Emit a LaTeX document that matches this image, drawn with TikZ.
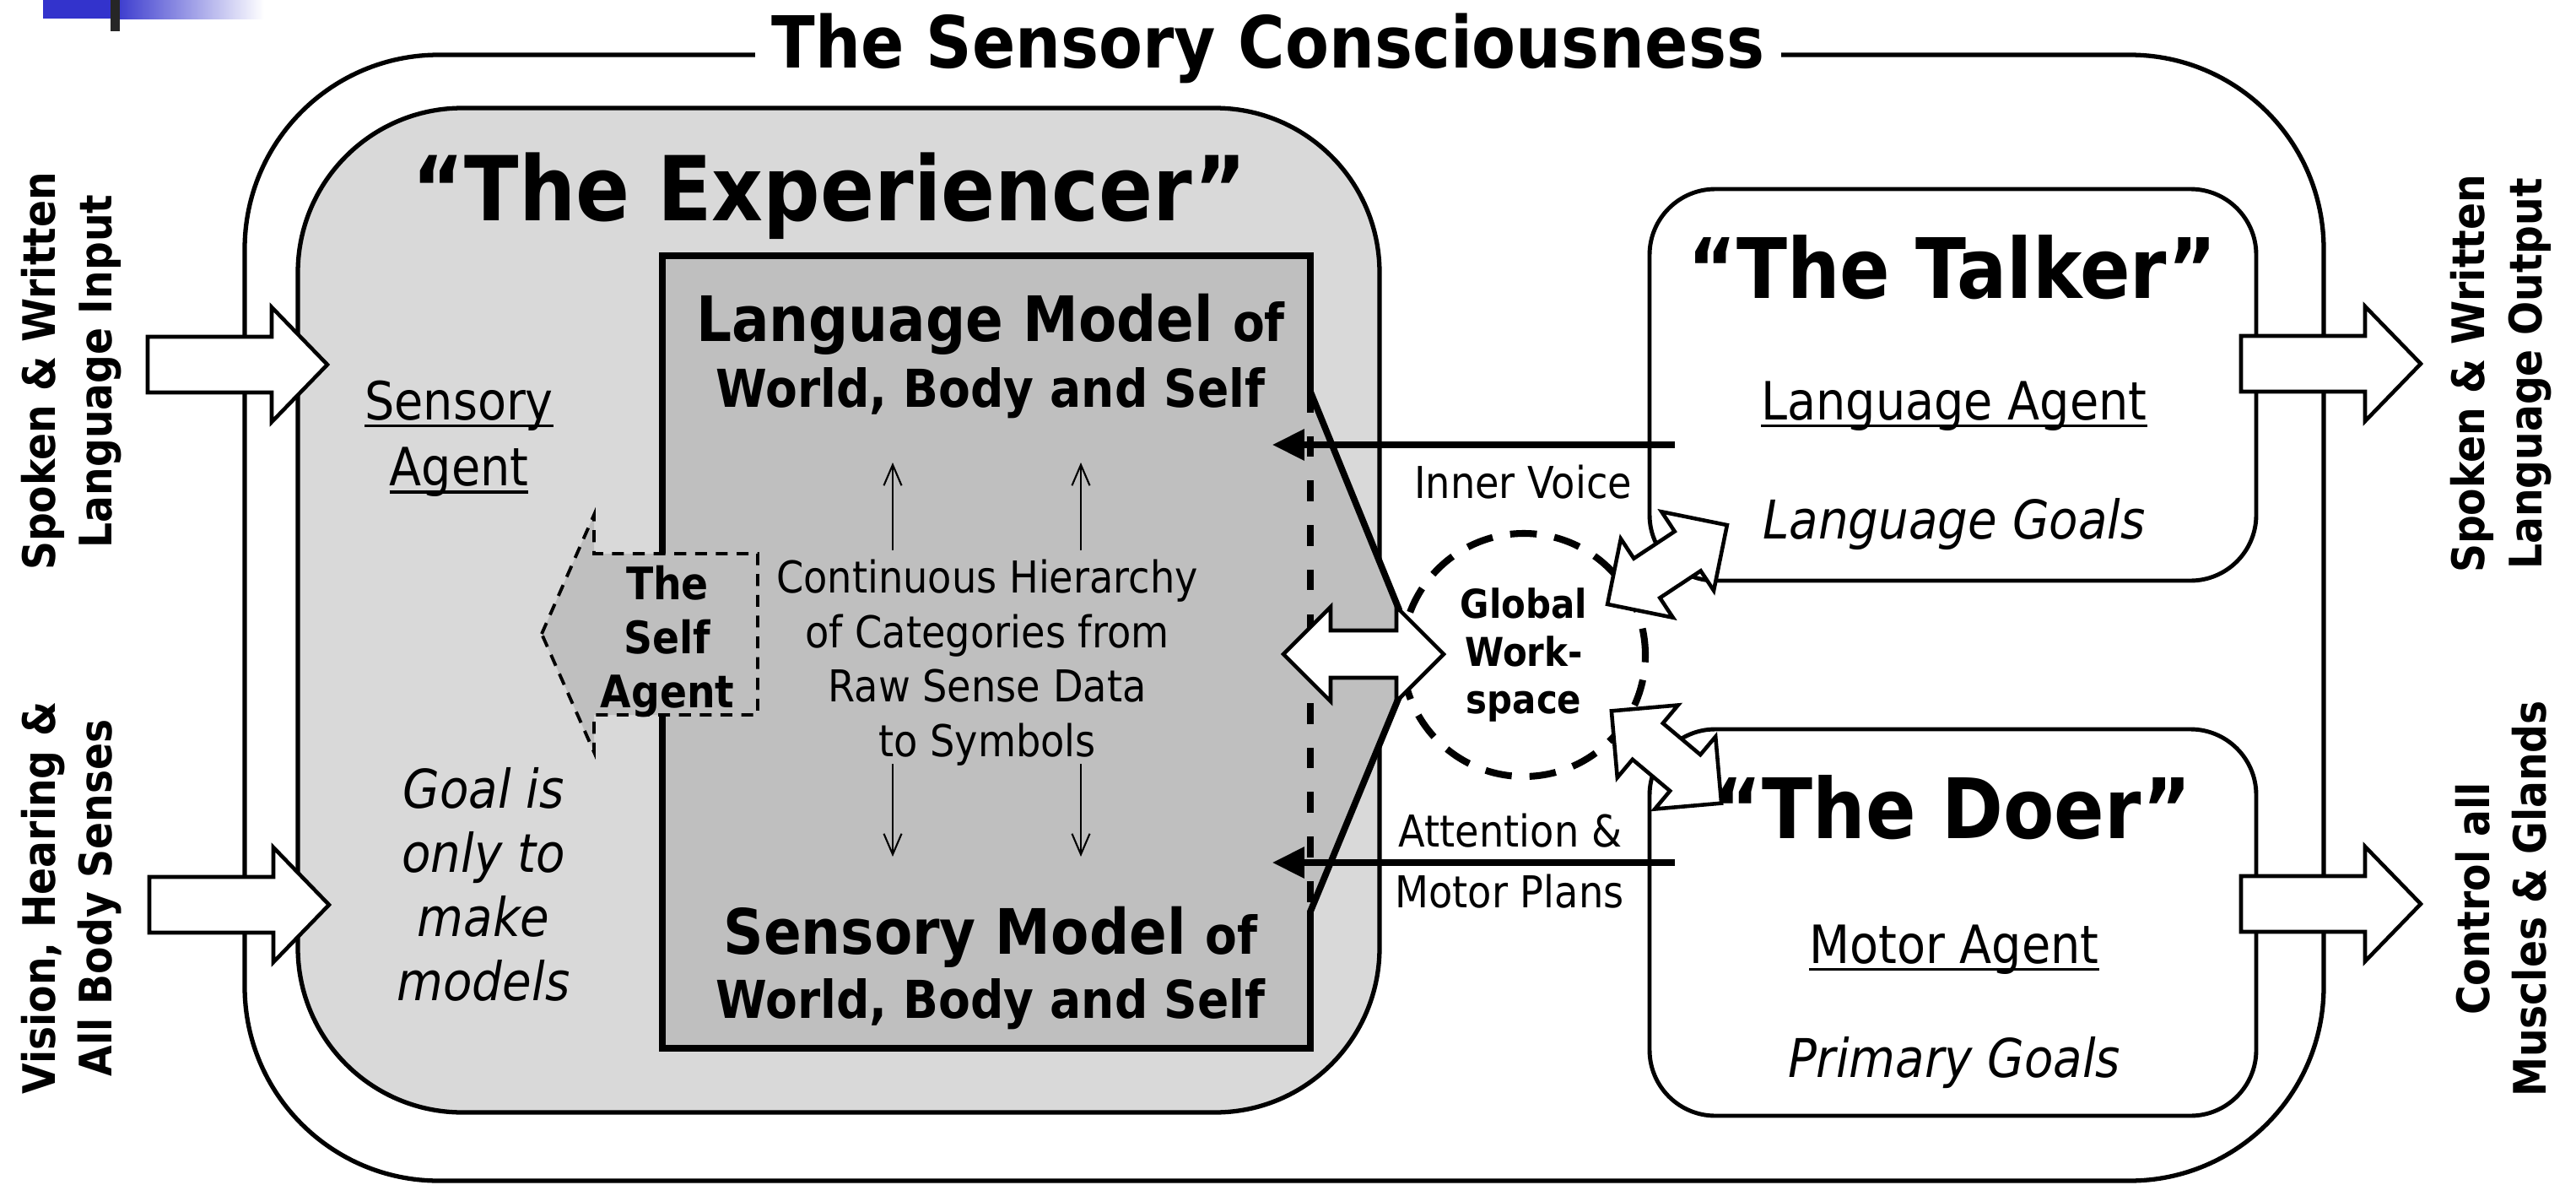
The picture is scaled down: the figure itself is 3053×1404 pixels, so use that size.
\documentclass[tikz,border=0pt]{standalone}
\usepackage{fontspec}
\setmainfont{DejaVu Sans}[FakeStretch=0.89]
\newcommand{\uln}[1]{\setbox0\hbox{#1}\rlap{\rule[-2.5pt]{\wd0}{0.9pt}}\box0}
\usepackage{tikz}
\usetikzlibrary{%
  positioning
 ,arrows.meta
 ,shapes
 ,calc
}
\definecolor{expbg}{gray}{0.85}
\definecolor{modelbg}{gray}{0.75}
\definecolor{barblue}{RGB}{51,51,204}
\tikzstyle{frame}=[draw,line width=1.5pt,rounded corners=23mm]
\tikzstyle{exper}=[draw,fill=expbg,line width=1.5pt,rounded corners=19.5mm]
\tikzstyle{agentbox}=[draw,fill=white,line width=1.4pt,rounded corners=7.8mm]
\tikzstyle{model}=[draw,fill=modelbg,line width=2.2pt,line join=miter]
\tikzstyle{modeledge}=[line width=2.2pt,dash pattern=on 7pt off 8pt]
\tikzstyle{selfag}=[draw,fill=modelbg,line width=1.1pt,dash pattern=on 4pt off 3pt]
\tikzstyle{blk}=[draw,fill=white,line width=1.3pt,line join=miter]
\tikzstyle{sig}=[line width=2pt,-{Triangle[length=10.8pt,width=10.2pt]}]
\tikzstyle{hierarrow}=[line width=0.6pt,-{Straight Barb[length=7pt,width=6pt]}]
\tikzstyle{gwcircle}=[circle,draw,line width=2.3pt,dash pattern=on 9pt off 6pt,minimum size=28.8mm,inner sep=0pt,align=center,font=\fontsize{13.4}{16.2}\selectfont\bfseries]
\tikzstyle{heading}=[font=\fontsize{24.2}{29}\selectfont\bfseries,inner xsep=5.7pt,inner ysep=2pt]
\tikzstyle{sidetxt}=[font=\fontsize{15.1}{19.1}\selectfont\bfseries,align=center]
\tikzstyle{bigtitle}=[font=\fontsize{30.2}{36}\selectfont\bfseries]
\tikzstyle{agtitle}=[font=\fontsize{28.1}{34}\selectfont\bfseries]
\tikzstyle{modeltxt}=[font=\fontsize{21.1}{25}\selectfont\bfseries]
\tikzstyle{modelsub}=[font=\fontsize{17.6}{21}\selectfont\bfseries]
\tikzstyle{agtext}=[font=\fontsize{17.8}{22.2}\selectfont,align=center]
\tikzstyle{goaltxt}=[font=\fontsize{18}{21.6}\selectfont\itshape,align=center]
\tikzstyle{selftxt}=[font=\fontsize{15.1}{18.2}\selectfont\bfseries,align=center]
\tikzstyle{note}=[font=\fontsize{14.8}{18.4}\selectfont,align=center]

\begin{document}
\begin{tikzpicture}[x=0.1mm,y=-0.1mm,on grid]
\useasboundingbox (0,0) rectangle (3053,1404);
\fill[barblue] (51,0) rectangle (131,22);
\shade[left color=barblue,right color=white] (131,0) rectangle (313,22);
\fill[black!85] (131,0) rectangle (142,37);
\draw[frame] (290,65) rectangle (2754,1399);
\node[heading,fill=white,anchor=base] (title) at (1503,80) {The Sensory Consciousness};
\draw[exper] (353,128) rectangle (1635,1318);
\draw[model] (785,303) -- (1553,303) -- (1553,464) -- (1658,722) -- (1658,826) -- (1553,1080) -- (1553,1242) -- (785,1242) -- cycle;
\draw[modeledge] (1553,464) -- (1553,1080);
\draw[selfag] (642,751) -- (704,610) -- (704,656) -- (898,656) -- (898,847) -- (704,847) -- (704,891) -- cycle;
\node[bigtitle,anchor=base] (exptitle) at (983,261) {“The Experiencer”};
\node[modeltxt,anchor=base] (langmodel) at (1174,404) {Language Model {\fontsize{17.6}{21}\selectfont of}};
\node[modelsub,anchor=base] (langworld) at (1174,482) {World, Body and Self};
\node[modeltxt,anchor=base] (sensmodel) at (1174,1130) {Sensory Model {\fontsize{17.6}{21}\selectfont of}};
\node[modelsub,anchor=base] (sensworld) at (1174,1206) {World, Body and Self};
\node[agtext] (sensagent) at (544,520) {\uln{Sensory}\\\uln{Agent}};
\node[goaltxt] (goal) at (573,1048) {Goal is\\only to\\make\\models};
\node[selftxt] (selfagent) at (791,760) {The\\Self\\Agent};
\node[note] (hier) at (1170,785) {Continuous Hierarchy\\of Categories from\\Raw Sense Data\\to Symbols};
\foreach \x in {1058,1281} {
  \draw[hierarrow] (\x,652) -- (\x,548);
  \draw[hierarrow] (\x,905) -- (\x,1015);
}
\draw[agentbox] (1955,224) rectangle (2674,688);
\draw[agentbox] (1955,864) rectangle (2674,1322);
\node[agtitle,anchor=base] (talker) at (2314,353) {“The Talker”};
\node[agtext,anchor=base] (langagent) at (2316,497) {\uln{Language Agent}};
\node[goaltxt] (langgoals) [below=14mm of langagent] {Language Goals};
\node[agtitle,anchor=base] (doer) at (2314,993) {“The Doer”};
\node[agtext,anchor=base] (motoragent) at (2316,1141) {\uln{Motor Agent}};
\node[goaltxt] (primgoals) [below=13.4mm of motoragent] {Primary Goals};
\node[gwcircle] (gws) at (1806,776) {Global\\Work-\\space};
\coordinate (ivfrom) at (1985,527);
\coordinate (ivto) at (1508,527);
\coordinate (apfrom) at (1985,1022);
\coordinate (apto) at (1508,1022);
\draw[sig] (ivfrom) -- (ivto);
\draw[sig] (apfrom) -- (apto);
\node[note,anchor=base] (innervoice) at (1805,590) {Inner Voice};
\node[note,anchor=base] (attention) at (1790,1003) {Attention \&};
\node[note,anchor=base] (motorplans) at (1789,1075) {Motor Plans};
\foreach \x/\y in {175/432,177/1072,2656/431,2656/1071}
  \draw[blk] (\x,\y) ++(0,-33) -- ++(147,0) -- ++(0,-35) -- ++(66,68) -- ++(-66,68) -- ++(0,-35) -- ++(-147,0) -- cycle;
\foreach \x/\y/\a/\l in {1616/775/0/95,1976/669/33.5/85,1975/897/-40/85}
  \draw[blk,shift={(\x,\y)},rotate=\a] (-\l,0) -- (56-\l,-56) -- (56-\l,-28) -- (\l-56,-28) -- (\l-56,-56) -- (\l,0) -- (\l-56,56) -- (\l-56,28) -- (56-\l,28) -- (56-\l,56) -- cycle;
\node[sidetxt,rotate=90] (spokenin) at (85,440) {Spoken \& Written\\Language Input};
\node[sidetxt,rotate=90] (senses) at (85,1064) {Vision, Hearing \&\\All Body Senses};
\node[sidetxt,rotate=90] (spokenout) at (2964,443) {Spoken \& Written\\Language Output};
\node[sidetxt,rotate=90] (glands) at (2964,1065) {Control all\\Muscles \& Glands};
\end{tikzpicture}
\end{document}
